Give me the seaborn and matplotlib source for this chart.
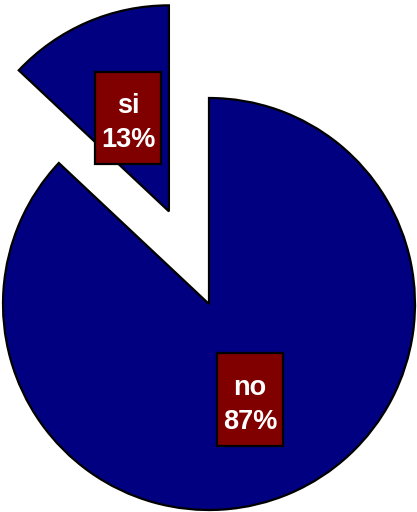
import matplotlib
matplotlib.use("Agg")
import matplotlib.pyplot as plt
import matplotlib.transforms as mtransforms
from matplotlib.path import Path
import seaborn as sns

sns.set_style("white")
plt.rcParams['font.family'] = ['Liberation Sans', 'DejaVu Sans']

categories = ["si", "no"]
values = [13, 87]
explode = [0.49, 0.0]

W, H = 417, 512
R = 206.0          # radius in px
cx, cy = 209, 304  # pie centre in px (from top-left)


def label_box(x0, y0, width, height, mutation_size):
    # taller box than the text, more room on top
    px = 0.22 * mutation_size
    top = 0.78 * mutation_size
    bot = 0.42 * mutation_size
    x1, y1 = x0 - px, y0 - bot
    x2, y2 = x0 + width + px, y0 + height + top
    return Path([(x1, y1), (x2, y1), (x2, y2), (x1, y2), (x1, y1)], closed=True)


fig = plt.figure(figsize=(W / 100, H / 100), dpi=100)
ax = fig.add_axes([0, 0, 1, 1])

labels = [f"{c}\n{v}%" for c, v in zip(categories, values)]
wedges, texts = ax.pie(values, labels=labels, explode=explode, startangle=90,
                       counterclock=True, colors=["#000080", "#000080"],
                       labeldistance=0.5,
                       wedgeprops=dict(edgecolor="black", linewidth=1.6),
                       textprops=dict(color="white", fontsize=19.5, fontweight="bold",
                                      ha="center", va="center", linespacing=1.4))
shift = mtransforms.ScaledTranslation(0, -6 / 100, fig.dpi_scale_trans)
for t in texts:
    t.set_transform(t.get_transform() + shift)
    t.set_bbox(dict(boxstyle=label_box, facecolor="#800000",
                    edgecolor="black", linewidth=1.6))

ax.set_aspect("auto")
ax.set_xlim(-cx / R, (W - cx) / R)
ax.set_ylim(-(H - cy) / R, cy / R)
ax.axis("off")

fig.savefig("out.png", dpi=100)
